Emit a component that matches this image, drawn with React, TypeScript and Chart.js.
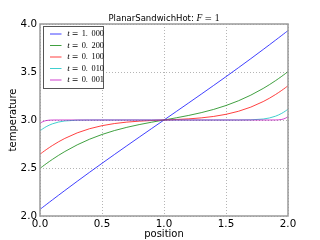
import React, { useEffect, useRef } from "react";
import { Chart, registerables } from "chart.js";

Chart.register(...registerables);

const positions = [
  0, 0.01, 0.02, 0.035, 0.05, 0.075, 0.1, 0.15, 0.2, 0.3, 0.4, 0.5, 0.6, 0.7, 0.8, 0.9,
  1.0,
  1.1, 1.2, 1.3, 1.4, 1.5, 1.6, 1.7, 1.8, 1.85, 1.9, 1.925, 1.95, 1.965, 1.98, 1.99, 2.0,
];

const temp_t1000 = [
  2.0687, 2.0787, 2.0887, 2.1036, 2.1185, 2.1433, 2.1679, 2.2168, 2.2654, 2.3612, 2.4556, 2.5486, 2.6404, 2.7312, 2.8212, 2.9108,
  3.0,
  3.0892, 3.1788, 3.2688, 3.3596, 3.4514, 3.5444, 3.6388, 3.7346, 3.7832, 3.8321, 3.8567, 3.8815, 3.8964, 3.9113, 3.9213, 3.9313,
];

const temp_t0200 = [
  2.4959, 2.5058, 2.5157, 2.5301, 2.5444, 2.5674, 2.5897, 2.632, 2.6713, 2.7411, 2.8, 2.8492, 2.8899, 2.9236, 2.9521, 2.9769,
  3.0,
  3.0231, 3.0479, 3.0764, 3.1101, 3.1508, 3.2, 3.2589, 3.3287, 3.368, 3.4103, 3.4326, 3.4556, 3.4699, 3.4843, 3.4942, 3.5041,
];

const temp_t0100 = [
  2.6432, 2.6531, 2.6628, 2.6771, 2.691, 2.7132, 2.7343, 2.7733, 2.8081, 2.8658, 2.9093, 2.9409, 2.963, 2.9779, 2.9879, 2.9947,
  3.0,
  3.0053, 3.0121, 3.0221, 3.037, 3.0591, 3.0907, 3.1342, 3.1919, 3.2267, 3.2657, 3.2868, 3.309, 3.3229, 3.3372, 3.3469, 3.3568,
];

const temp_t0010 = [
  2.8872, 2.8969, 2.906, 2.9187, 2.9302, 2.9467, 2.9601, 2.979, 2.99, 2.9983, 2.9998, 3.0, 3.0, 3.0, 3.0, 3.0,
  3.0,
  3.0, 3.0, 3.0, 3.0, 3.0, 3.0002, 3.0017, 3.01, 3.021, 3.0399, 3.0533, 3.0698, 3.0813, 3.094, 3.1031, 3.1128,
];

const temp_t0001 = [
  2.9643, 2.9734, 2.9808, 2.9889, 2.9941, 2.9984, 2.9996, 3.0, 3.0, 3.0, 3.0, 3.0, 3.0, 3.0, 3.0, 3.0,
  3.0,
  3.0, 3.0, 3.0, 3.0, 3.0, 3.0, 3.0, 3.0, 3.0, 3.0004, 3.0016, 3.0059, 3.0111, 3.0192, 3.0266, 3.0357,
];

const seriesValues = [temp_t1000, temp_t0200, temp_t0100, temp_t0010, temp_t0001];
const seriesLabels = ["1.000", "0.200", "0.100", "0.010", "0.001"];
const seriesColors = [
  "rgba(0,0,255,0.75)",
  "rgba(0,128,0,0.75)",
  "rgba(255,0,0,0.75)",
  "rgba(0,191,191,0.75)",
  "rgba(191,0,191,0.75)",
];

const titlePrefix = "PlanarSandwichHot: ";
const titleVar = "F";
const titleValue = "1";
const xTitle = "position";
const yTitle = "temperature";

const decorPlugin = {
  id: "decor",
  afterDatasetsDraw(chart: any) {
    const { ctx, chartArea: a } = chart;
    ctx.save();
    // frame
    ctx.strokeStyle = "#9a9a9a";
    ctx.lineWidth = 1.5;
    ctx.strokeRect(a.left, a.top, a.right - a.left, a.bottom - a.top);

    // legend
    const lx = a.left + 3.5;
    const ly = a.top + 2.5;
    const lw = 60;
    const lh = 62;
    ctx.fillStyle = "#ffffff";
    ctx.fillRect(lx, ly, lw, lh);
    ctx.strokeStyle = "#555555";
    ctx.lineWidth = 1;
    ctx.strokeRect(lx, ly, lw, lh);
    chart.data.datasets.forEach((ds: any, i: number) => {
      const y = a.top + 10 + i * 11.5;
      ctx.strokeStyle = ds.borderColor;
      ctx.lineWidth = 1;
      ctx.beginPath();
      ctx.moveTo(a.left + 10, y);
      ctx.lineTo(a.left + 21.5, y);
      ctx.stroke();
      ctx.fillStyle = "#000";
      ctx.textBaseline = "middle";
      ctx.textAlign = "left";
      const x0 = a.left + 27.3;
      const label = seriesLabels[i];
      const dot = label.indexOf(".");
      ctx.font = "italic 9px 'Liberation Serif'";
      ctx.fillText("t", x0, y);
      ctx.font = "8px 'DejaVu Sans'";
      ctx.fillText("=", x0 + 4.4, y);
      ctx.font = "8.3px 'Liberation Serif'";
      ctx.fillText(label.slice(0, dot + 1), x0 + 14.4, y);
      ctx.fillText(label.slice(dot + 1), x0 + 24.2, y);
    });

    // title
    ctx.textBaseline = "alphabetic";
    ctx.textAlign = "left";
    ctx.fillStyle = "#000";
    ctx.font = "8.5px 'DejaVu Sans'";
    const w1 = ctx.measureText(titlePrefix).width;
    const total = w1 + 23;
    const tx = (a.left + a.right) / 2 - total / 2;
    const ty = a.top - 3;
    ctx.fillText(titlePrefix, tx, ty);
    ctx.font = "italic 9.5px 'Liberation Serif'";
    ctx.fillText(titleVar, tx + w1, ty);
    ctx.font = "9px 'DejaVu Sans'";
    ctx.fillText("=", tx + w1 + 8, ty);
    ctx.font = "9.5px 'Liberation Serif'";
    ctx.fillText(titleValue, tx + w1 + 18.3, ty);
    ctx.restore();
  },
};

export default function App() {
  const ref = useRef<HTMLCanvasElement | null>(null);

  useEffect(() => {
    if (!ref.current) return;
    Chart.defaults.font.family = "'DejaVu Sans'";
    const datasets = seriesValues.map((vals, i) => ({
      label: "t = " + seriesLabels[i],
      data: positions.map((p, j) => ({ x: p, y: vals[j] })),
      borderColor: seriesColors[i],
      backgroundColor: seriesColors[i],
      borderWidth: 1,
      pointRadius: 0,
      tension: 0,
      fill: false,
      order: seriesValues.length - i,
    }));
    const tickFont = { family: "'DejaVu Sans'", size: 10.3 };
    const chart = new Chart(ref.current, {
      type: "line",
      data: { datasets },
      plugins: [decorPlugin],
      options: {
        animation: false,
        responsive: false,
        devicePixelRatio: 1,
        layout: { padding: { left: 0, right: 32, top: 24, bottom: 0 } },
        plugins: {
          legend: { display: false },
          title: { display: false },
          tooltip: { enabled: false },
        },
        scales: {
          x: {
            type: "linear",
            min: 0,
            max: 2,
            ticks: {
              stepSize: 0.5,
              padding: 2,
              color: "#000",
              font: tickFont,
              maxRotation: 0,
              callback: (v: any) => Number(v).toFixed(1),
            },
            grid: { color: "#b5b5b5", lineWidth: 1, drawTicks: false },
            border: { display: false, dash: [1, 2] },
            title: {
              display: true,
              text: xTitle,
              color: "#000",
              font: { family: "'DejaVu Sans'", size: 10 },
              padding: { top: 4, bottom: 0 },
            },
            afterFit: (s: any) => {
              s.height = 24;
            },
          },
          y: {
            type: "linear",
            min: 2,
            max: 4,
            ticks: {
              stepSize: 0.5,
              padding: 3,
              color: "#000",
              font: tickFont,
              callback: (v: any) => Number(v).toFixed(1),
            },
            grid: { color: "#b5b5b5", lineWidth: 1, drawTicks: false },
            border: { display: false, dash: [1, 2] },
            title: {
              display: true,
              text: yTitle,
              color: "#000",
              font: { family: "'DejaVu Sans'", size: 10 },
              padding: { top: 7.5, bottom: 0 },
            },
            afterFit: (s: any) => {
              s.width = 40;
            },
          },
        },
      } as any,
    });
    return () => chart.destroy();
  }, []);

  return (
    <div style={{ position: "fixed", left: 0, top: 0, width: 320, height: 240, background: "#fff" }}>
      <canvas ref={ref} width={320} height={240} style={{ width: 320, height: 240 }} />
    </div>
  );
}
